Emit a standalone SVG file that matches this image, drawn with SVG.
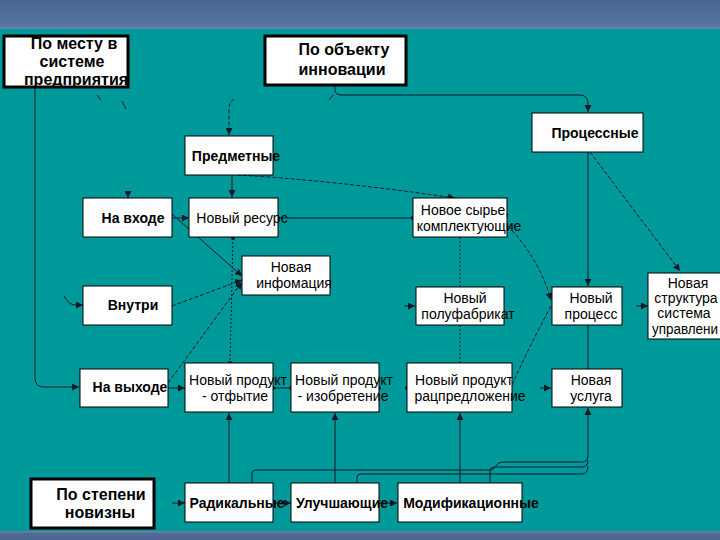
<svg xmlns="http://www.w3.org/2000/svg" width="720" height="540" viewBox="0 0 720 540">
<defs>
<linearGradient id="band" x1="0" y1="0" x2="0" y2="1">
<stop offset="0" stop-color="#4a6690"/>
<stop offset="0.85" stop-color="#5674a0"/>
<stop offset="1" stop-color="#6a88ac"/>
</linearGradient>
<linearGradient id="band2" x1="0" y1="0" x2="0" y2="1">
<stop offset="0" stop-color="#6a88ac"/>
<stop offset="0.3" stop-color="#4f6b95"/>
<stop offset="1" stop-color="#4a6690"/>
</linearGradient>
<marker id="ar" viewBox="0 0 10 10" refX="10" refY="5" markerWidth="7" markerHeight="7" markerUnits="userSpaceOnUse" orient="auto">
<path d="M0,0 L10,5 L0,10 z" fill="#101828"/>
</marker>
<marker id="dot" viewBox="0 0 10 10" refX="5" refY="5" markerWidth="4" markerHeight="4" markerUnits="userSpaceOnUse">
<circle cx="5" cy="5" r="5" fill="#101828"/>
</marker>
</defs>
<style>
.b{fill:#fff;stroke:#000;stroke-width:1}
.h{fill:#fff;stroke:#000;stroke-width:3}
text{font-family:"Liberation Sans",Arial,sans-serif;fill:#000;text-anchor:middle}
.r{font-size:14px}
.bd{font-size:14px;font-weight:bold}
.hd{font-size:16px;font-weight:bold}
.c{fill:none;stroke:#101828;stroke-width:1}
.d{stroke-dasharray:4,2}
.dt{stroke-dasharray:2,2}
</style>
<rect x="0" y="0" width="720" height="540" fill="#009999"/>
<rect x="0" y="0" width="720" height="29" fill="url(#band)"/>
<rect x="0" y="531" width="720" height="9" fill="url(#band2)"/>

<g id="connectors">
<path class="c" d="M35,88 V378 Q35,387 44,387 H79" marker-end="url(#ar)"/>
<path class="c" d="M64,296 Q69,305 75,305 H83" marker-end="url(#ar)"/>
<path class="c" d="M128,191 V198" marker-end="url(#ar)"/>
<path class="c" d="M97,95 L101,100"/>
<path class="c" d="M122,101 L126,109"/>
<path class="c" d="M335,86 V90 Q335,95 342,95 H580 Q588,95 588,104 V112" marker-end="url(#ar)"/>
<path class="c" d="M333,95 L329,100"/>
<path class="c d" d="M234,99 Q229,102 229,110 V135" marker-end="url(#ar)"/>
<path class="c" d="M232,175 V197" marker-end="url(#ar)"/>
<path class="c d" d="M237,175 Q330,180 455,198" marker-end="url(#ar)"/>
<path class="c" d="M278,218 H413" marker-end="url(#dot)"/>
<path class="c" d="M172,218 H189" marker-end="url(#ar)"/>
<path class="c" d="M172,214 L242,276" marker-end="url(#ar)"/>
<path class="c dt" d="M233,238 L230,363" marker-start="url(#dot)" marker-end="url(#dot)"/>
<path class="c d" d="M172,306 L242,280" marker-end="url(#ar)"/>
<path class="c d" d="M168,383 L242,282" marker-end="url(#ar)"/>
<path class="c" d="M168,388 H185" marker-end="url(#ar)"/>
<path class="c" d="M273,388 H291" marker-start="url(#dot)" marker-end="url(#dot)"/>
<path class="c dt" d="M460,237 V363"/>
<path class="c d" d="M508,226 Q540,260 551,300" marker-end="url(#ar)"/>
<path class="c" d="M404,306 H415" marker-end="url(#ar)"/>
<path class="c" d="M588,152 V286" marker-end="url(#ar)"/>
<path class="c d" d="M590,152 L680,271" marker-end="url(#ar)"/>
<path class="c" d="M636,306 H648" marker-end="url(#ar)"/>
<path class="c" d="M588,325 V369"/>
<path class="c d" d="M512,385 Q530,345 551,306"/>
<path class="c" d="M540,388 H551" marker-end="url(#ar)"/>
<circle cx="379" cy="388" r="2" fill="#101828"/>
<circle cx="407" cy="388" r="2" fill="#101828"/>
<path class="c" d="M172,503 H185" marker-end="url(#ar)"/>
<path class="c" d="M273,503 H291" marker-end="url(#ar)"/>
<path class="c" d="M379,503 H397" marker-end="url(#ar)"/>
<path class="c" d="M229,483 V413" marker-end="url(#ar)"/>
<path class="c" d="M335,483 V413" marker-end="url(#ar)"/>
<path class="c" d="M460,483 V413" marker-end="url(#ar)"/>
<path class="c" d="M252,483 V473 Q252,470 256,470 H490 Q494,470 496,466 Q498,462 503,462 H582 Q588,462 588,455 V408" marker-end="url(#ar)"/>
<path class="c" d="M357,483 V477 Q357,474 361,474 H582 Q588,474 588,466"/>
<path class="c" d="M490,483 V471 Q490,467 494,467 H582 Q588,467 588,460"/>
</g>

<g id="n-mesto"><rect class="h" x="4" y="36" width="124" height="51"/><text class="hd" x="74" y="49">По месту в</text><text class="hd" x="72" y="67">системе</text><text class="hd" x="76" y="85">предприятия</text></g>
<g id="n-obekt"><rect class="h" x="265" y="36" width="141" height="49"/><text class="hd" x="344" y="55">По объекту</text><text class="hd" x="342" y="75">инновации</text></g>
<g id="n-process"><rect class="b" x="532" y="113" width="111" height="39"/><text class="bd" x="595" y="138">Процессные</text></g>
<g id="n-predmet"><rect class="b" x="185" y="136" width="88" height="39"/><text class="bd" x="236" y="161">Предметные</text></g>
<g id="n-vhod"><rect class="b" x="83" y="198" width="89" height="39"/><text class="bd" x="133" y="223">На входе</text></g>
<g id="n-resurs"><rect class="b" x="189" y="198" width="89" height="39"/><text class="r" x="242" y="223">Новый ресурс</text></g>
<g id="n-syrie"><rect class="b" x="413" y="198" width="94" height="39"/><text class="r" x="465" y="215">Новое сырье,</text><text class="r" x="469" y="231">комплектующие</text></g>
<g id="n-info"><rect class="b" x="242" y="256" width="88" height="39"/><text class="r" x="291" y="272">Новая</text><text class="r" x="294" y="288">инфомация</text></g>
<g id="n-vnutri"><rect class="b" x="83" y="286" width="89" height="39"/><text class="bd" x="133" y="310">Внутри</text></g>
<g id="n-polufab"><rect class="b" x="416" y="287" width="88" height="38"/><text class="r" x="465" y="303">Новый</text><text class="r" x="468" y="319">полуфабрикат</text></g>
<g id="n-nproc"><rect class="b" x="552" y="287" width="70" height="38"/><text class="r" x="591" y="303">Новый</text><text class="r" x="591" y="319">процесс</text></g>
<g id="n-strukt"><rect class="b" x="648" y="273" width="80" height="66"/><text class="r" x="688" y="288">Новая</text><text class="r" x="686" y="303">структура</text><text class="r" x="684" y="318">система</text><text class="r" x="685" y="334" textLength="66" lengthAdjust="spacingAndGlyphs">управлени</text></g>
<g id="n-vyhod"><rect class="b" x="80" y="369" width="88" height="38"/><text class="bd" x="130" y="392">На выходе</text></g>
<g id="n-otkr"><rect class="b" x="185" y="363" width="88" height="49"/><text class="r" x="238" y="385">Новый продукт</text><text class="r" x="235" y="401">- отфытие</text></g>
<g id="n-izobr"><rect class="b" x="291" y="363" width="88" height="49"/><text class="r" x="344" y="385">Новый продукт</text><text class="r" x="343" y="401">- изобретение</text></g>
<g id="n-racp"><rect class="b" x="407" y="363" width="105" height="49"/><text class="r" x="464" y="385">Новый продукт</text><text class="r" x="470" y="401">рацпредложение</text></g>
<g id="n-usluga"><rect class="b" x="552" y="369" width="70" height="38"/><text class="r" x="591" y="385">Новая</text><text class="r" x="591" y="401">услуга</text></g>
<g id="n-stepen"><rect class="h" x="31" y="479" width="123" height="49"/><text class="hd" x="101" y="500">По степени</text><text class="hd" x="100" y="518">новизны</text></g>
<g id="n-radik"><rect class="b" x="185" y="483" width="88" height="39"/><text class="bd" x="237" y="508">Радикальные</text></g>
<g id="n-uluch"><rect class="b" x="291" y="483" width="88" height="39"/><text class="bd" x="342" y="508">Улучшающие</text></g>
<g id="n-modif"><rect class="b" x="398" y="483" width="124" height="39"/><text class="bd" x="471" y="508">Модификационные</text></g>
</svg>
